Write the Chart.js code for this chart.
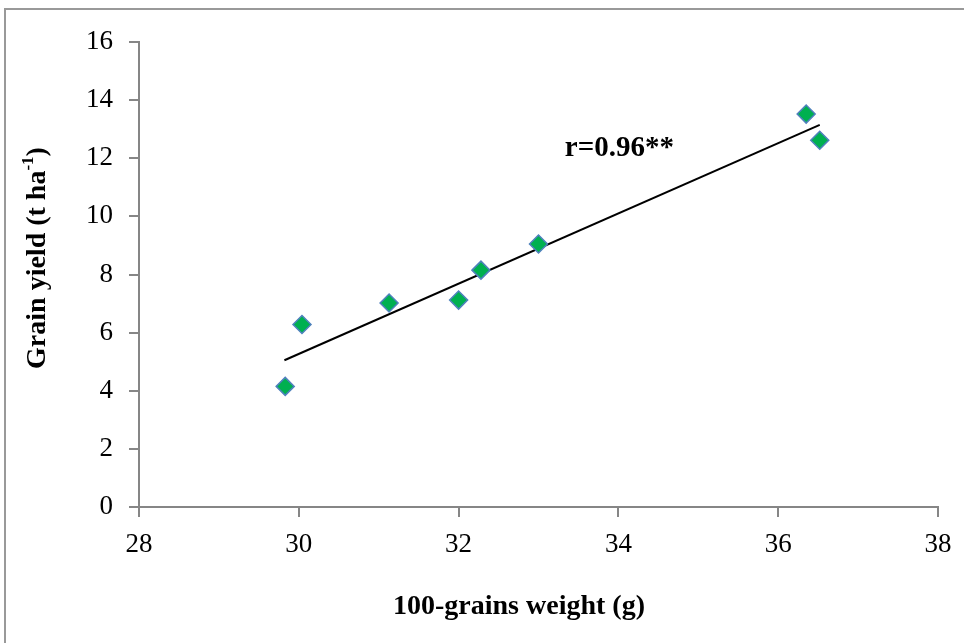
<!DOCTYPE html>
<html lang="en">
<head>
  <meta charset="UTF-8">
  <title>Grain yield vs 100-grains weight</title>
  <script src="https://cdn.jsdelivr.net/npm/chart.js"></script>
  <style>
    html, body {
      margin: 0;
      padding: 0;
      background: #fff;
    }
    #wrap {
      width: 964px;
      height: 643px;
      position: relative;
    }
  </style>
</head>
<body>
  <div id="wrap">
    <canvas id="yieldChart" width="964" height="643"></canvas>
  </div>

  <script>
    // data
    const grainWeight = [29.83, 30.04, 31.13, 32.0, 32.28, 33.0, 36.35, 36.52];
    const grainYield = [4.15, 6.28, 7.02, 7.12, 8.15, 9.05, 13.52, 12.62];
    const trendX = [29.82, 36.52];
    const trendY = [5.05, 13.15];
    const xTicks = [28, 30, 32, 34, 36, 38];
    const yTicks = [0, 2, 4, 6, 8, 10, 12, 14, 16];
    const corrLabel = 'r=0.96**';

    const serif = '"Liberation Serif", "Times New Roman", serif';
    const axisGray = '#868686';

    const points = grainWeight.map((x, i) => ({ x: x, y: grainYield[i] }));
    const trend = trendX.map((x, i) => ({ x: x, y: trendY[i] }));

    // frame, axis titles and r label
    const decorations = {
      id: 'decorations',
      beforeDraw(chart) {
        const ctx = chart.ctx;
        ctx.save();
        ctx.fillStyle = '#fff';
        ctx.fillRect(0, 0, chart.width, chart.height);
        ctx.strokeStyle = '#999';
        ctx.lineWidth = 2;
        ctx.strokeRect(5, 9, chart.width + 10, chart.height + 10);
        ctx.restore();
      },
      afterDraw(chart) {
        const ctx = chart.ctx;
        ctx.save();
        ctx.fillStyle = '#000';

        // x axis title
        ctx.font = 'bold 28px ' + serif;
        ctx.textAlign = 'center';
        ctx.textBaseline = 'middle';
        ctx.fillText('100-grains weight (g)', 519, 607);

        // y axis title with superscript
        ctx.translate(38, 258);
        ctx.rotate(-Math.PI / 2);
        const main = 'Grain yield (t ha';
        const sup = '-1';
        const close = ')';
        ctx.font = 'bold 28px ' + serif;
        const wMain = ctx.measureText(main).width;
        const wClose = ctx.measureText(close).width;
        ctx.font = 'bold 17px ' + serif;
        const wSup = ctx.measureText(sup).width;
        const start = -(wMain + wSup + wClose) / 2;
        ctx.textAlign = 'left';
        ctx.font = 'bold 28px ' + serif;
        ctx.fillText(main, start, 0);
        ctx.font = 'bold 17px ' + serif;
        ctx.fillText(sup, start + wMain, -9);
        ctx.font = 'bold 28px ' + serif;
        ctx.fillText(close, start + wMain + wSup, 0);
        ctx.restore();

        // correlation label
        ctx.save();
        ctx.font = 'bold 29px ' + serif;
        ctx.fillStyle = '#000';
        ctx.textAlign = 'left';
        ctx.textBaseline = 'middle';
        const xs = chart.scales.x;
        const ys = chart.scales.y;
        ctx.fillText(corrLabel, xs.getPixelForValue(33.33), ys.getPixelForValue(12.35));
        ctx.restore();
      }
    };

    new Chart(document.getElementById('yieldChart').getContext('2d'), {
      type: 'scatter',
      data: {
        datasets: [
          {
            label: 'Trend',
            type: 'line',
            data: trend,
            borderColor: '#000',
            borderWidth: 2,
            pointRadius: 0,
            fill: false,
            order: 2
          },
          {
            label: 'Grain yield',
            data: points,
            pointStyle: 'rectRot',
            pointRadius: 9,
            pointBackgroundColor: '#00B050',
            pointBorderColor: '#4F81BD',
            pointBorderWidth: 1.5,
            order: 1
          }
        ]
      },
      options: {
        responsive: false,
        animation: false,
        layout: {
          padding: { top: 42, right: 26, left: 0, bottom: 0 }
        },
        plugins: {
          legend: { display: false },
          tooltip: { enabled: false }
        },
        scales: {
          x: {
            type: 'linear',
            min: 28,
            max: 38,
            afterBuildTicks(scale) {
              scale.ticks = xTicks.map(v => ({ value: v }));
            },
            afterFit(scale) {
              scale.height = 136;
            },
            grid: {
              drawOnChartArea: false,
              drawTicks: true,
              tickLength: 10,
              color: axisGray,
              lineWidth: 2
            },
            border: { color: axisGray, width: 2 },
            ticks: {
              color: '#000',
              padding: 12,
              font: { family: serif, size: 27 }
            }
          },
          y: {
            type: 'linear',
            min: 0,
            max: 16,
            afterBuildTicks(scale) {
              scale.ticks = yTicks.map(v => ({ value: v }));
            },
            afterFit(scale) {
              scale.width = 139;
            },
            grid: {
              drawOnChartArea: false,
              drawTicks: true,
              tickLength: 10,
              color: axisGray,
              lineWidth: 2
            },
            border: { color: axisGray, width: 2 },
            ticks: {
              color: '#000',
              padding: 16,
              font: { family: serif, size: 27 }
            }
          }
        }
      },
      plugins: [decorations]
    });
  </script>
</body>
</html>
